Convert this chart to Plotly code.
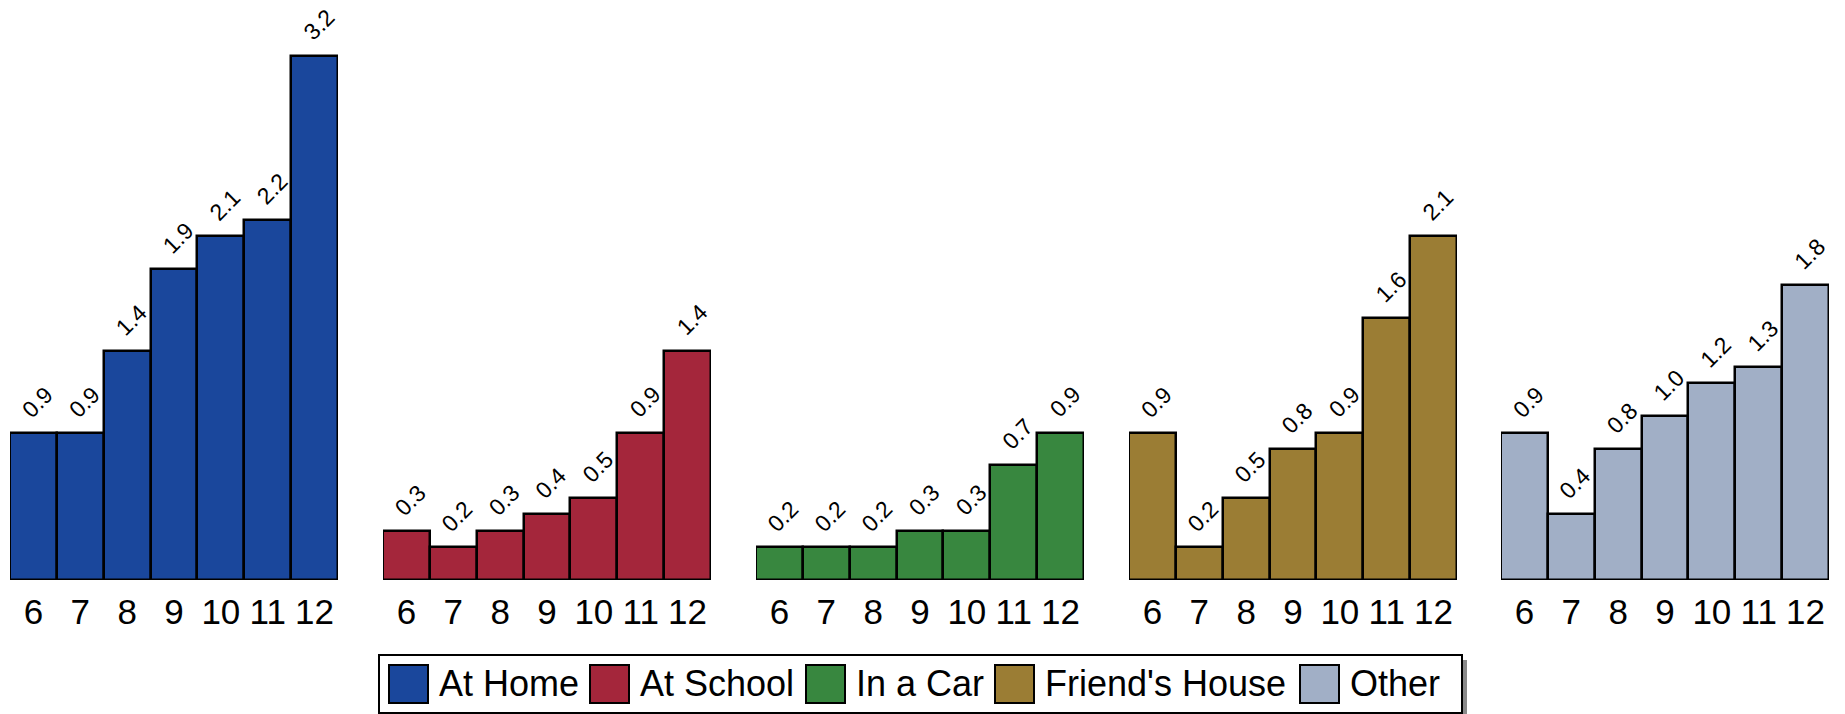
import plotly.graph_objects as go

# ---- data ----
grades = ["6", "7", "8", "9", "10", "11", "12"]
locations = ["At Home", "At School", "In a Car", "Friend's House", "Other"]
at_home = [0.9, 0.9, 1.4, 1.9, 2.1, 2.2, 3.2]
at_school = [0.3, 0.2, 0.3, 0.4, 0.5, 0.9, 1.4]
in_a_car = [0.2, 0.2, 0.2, 0.3, 0.3, 0.7, 0.9]
friends_house = [0.9, 0.2, 0.5, 0.8, 0.9, 1.6, 2.1]
other = [0.9, 0.4, 0.8, 1.0, 1.2, 1.3, 1.8]
series = [at_home, at_school, in_a_car, friends_house, other]

# ---- style ----
colors = ["#1a479c", "#a4263b", "#38873f", "#9b7d34", "#a1afc6"]
FONT = "Liberation Sans, Arial, sans-serif"
W, H = 1845, 714

panel_left = [10, 383, 756, 1129, 1501]
panel_width = 328
base_px = 580          # pixel row of zero
px_per_unit = 163.8
ymax = 3.4

fig = go.Figure()
layout_axes = {}
annotations = []
for i, (name, vals, col) in enumerate(zip(locations, series, colors)):
    ax = "" if i == 0 else str(i + 1)
    fig.add_trace(go.Bar(
        x=grades, y=vals, name=name, xaxis="x" + ax, yaxis="y",
        marker=dict(color=col, line=dict(color="black", width=2.5)),
        showlegend=False, hoverinfo="x+y",
    ))
    layout_axes["xaxis" + ax] = dict(
        domain=[panel_left[i] / W, (panel_left[i] + panel_width) / W],
        anchor="y", type="category", categoryorder="array", categoryarray=grades,
        range=[-0.5, 6.5],
        showgrid=False, zeroline=False, showline=False, ticks="",
        tickfont=dict(family=FONT, size=35, color="black"),
        ticklabelstandoff=8, fixedrange=True,
    )
    for j, v in enumerate(vals):
        annotations.append(dict(
            x=j, y=v, xref="x" + ax, yref="y", text=f"{v:.1f}",
            textangle=-45, showarrow=False, xanchor="center", yanchor="middle",
            xshift=4, yshift=31, font=dict(family=FONT, size=23, color="black"),
        ))

# ---- manual legend ----
shapes = []
def px_x(x):
    return x / W
def px_y(y):
    return 1 - y / H

# shadow
shapes.append(dict(type="rect", xref="paper", yref="paper",
                   x0=px_x(384), x1=px_x(1467), y0=px_y(720), y1=px_y(660),
                   fillcolor="#8a8a8a", line=dict(width=0), layer="below"))
# box
shapes.append(dict(type="rect", xref="paper", yref="paper",
                   x0=px_x(379), x1=px_x(1462), y0=px_y(713), y1=px_y(655),
                   fillcolor="white", line=dict(color="black", width=2), layer="below"))
sw_left = [389, 590, 806, 995, 1300]
sw_w = 39
for name, col, sx in zip(locations, colors, sw_left):
    shapes.append(dict(type="rect", xref="paper", yref="paper",
                       x0=px_x(sx), x1=px_x(sx + sw_w), y0=px_y(703), y1=px_y(665),
                       fillcolor=col, line=dict(color="black", width=2)))
    annotations.append(dict(
        x=px_x(sx + sw_w + 9), y=px_y(683), xref="paper", yref="paper",
        text=name, showarrow=False, xanchor="left", yanchor="middle",
        font=dict(family=FONT, size=36, color="black"),
    ))

y_bottom = 1 - base_px / H
y_top = 1 - (base_px - ymax * px_per_unit) / H

fig.update_layout(
    width=W, height=H,
    margin=dict(l=0, r=0, t=0, b=0, pad=0),
    paper_bgcolor="white", plot_bgcolor="white",
    bargap=0,
    yaxis=dict(domain=[y_bottom, y_top], range=[0, ymax], visible=False,
               showgrid=False, zeroline=False, fixedrange=True),
    annotations=annotations, shapes=shapes,
    font=dict(family=FONT, color="black"),
    **layout_axes,
)

fig.write_html("out.html", config={"displayModeBar": False},
               post_script="document.body.style.margin='0';")
